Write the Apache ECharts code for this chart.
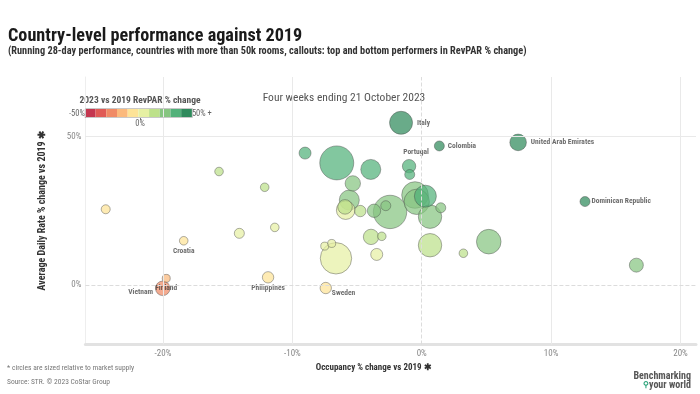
<!DOCTYPE html>
<html>
<head>
<meta charset="utf-8">
<script src="https://cdn.jsdelivr.net/npm/echarts@6/dist/echarts.min.js"></script>
<style>
html,body{margin:0;padding:0;background:#fff;}
#chart{width:700px;height:394px;}
</style>
</head>
<body>
<div id="chart"></div>
<script>
// ---- data ----
const countries = ['Italy','Colombia','United Arab Emirates','Dominican Republic','','Portugal','','','','','','','','','','','','','','','','','','','','','','','','','','','','','','','','Croatia','Finland','Vietnam','Philippines','Sweden'];
const occChange = [-1.6,1.36,7.45,12.62,16.59,-0.98,-0.93,-6.57,-3.94,-9.02,-15.67,-12.14,-24.43,-5.33,-5.6,-5.93,-5.88,-4.75,-3.69,-2.78,-2.45,-0.52,0.28,-0.39,0.64,1.47,-3.92,-3.09,0.64,5.18,3.22,-3.48,-7.5,-6.96,-6.63,-11.36,-14.1,-18.4,-19.75,-20.02,-11.88,-7.42];
const adrChange = [54.6,46.8,48.0,28.1,6.7,40.0,37.2,41.1,38.9,44.4,38.2,32.9,25.5,34.2,28.6,26.3,25.2,24.9,25.0,26.7,24.6,30.3,29.9,28.0,23.0,26.0,16.2,16.4,13.4,14.6,10.7,10.3,13.1,14.0,9.0,19.4,17.4,14.9,2.25,-1.1,2.6,-1.0];
const revparChange = [52,49,59,44,24,39,36,32,33,31,16,17,-5,27,21,19,9,19,21,23,22,29,31,27,24,28,12,13,14,21,14,7,5,6,2,6,1,-6,-18,-21,-10,-8];
const supplyK = [437,83,228,83,162,148,83,955,331,119,61,61,67,196,331,176,286,107,148,83,922,585,400,533,453,83,196,61,453,500,61,119,53,53,815,61,83,61,53,176,107,107];
const xTicks = [-20,-10,0,10,20];
const yTicks = [0,50];
</script>
<script>
const FONT = "'Roboto Condensed','Open Sans Condensed',sans-serif";
const labelPos = {
  'Italy': {position:'right', distance:4},
  'Colombia': {position:'right', distance:3},
  'United Arab Emirates': {position:'right', distance:4},
  'Dominican Republic': {position:'right', distance:1},
  'Portugal': {position:'top', distance:3, offset:[7,0]},
  'Croatia': {position:'bottom', distance:2},
  'Finland': {position:'bottom', distance:1},
  'Vietnam': {position:'left', distance:2, offset:[0,4]},
  'Philippines': {position:'bottom', distance:1},
  'Sweden': {position:'right', distance:0, offset:[0,5]}
};
const pts = occChange.map((x,i)=>({
  name: countries[i] || '',
  value: [x, adrChange[i], revparChange[i], supplyK[i]],
  label: countries[i] ? Object.assign({show:true}, labelPos[countries[i]] || {position:'right'}) : {show:false}
}));
pts.sort((a,b)=>b.value[3]-a.value[3]);

const binColors = ['#c4364f','#e05a55','#f08a65','#fbb97c','#fde397','#e6f0a3','#bde18a','#87c581','#52b17a','#2f8a5c'];
const pieces = binColors.map((c,i)=>{
  const p = {color:c};
  if (i>0) p.gte = -50 + i*10;
  if (i<9) p.lt = -50 + (i+1)*10;
  return p;
});

const grey = '#e9e9e9';
const chart = echarts.init(document.getElementById('chart'), null, {renderer:'canvas'});
chart.setOption({
  animation:false,
  textStyle:{fontFamily:FONT},
  title:{
    text:'Country-level performance against 2019',
    subtext:'(Running 28-day performance, countries with more than 50k rooms, callouts: top and bottom performers in RevPAR % change)',
    left:3, top:22, itemGap:1,
    textStyle:{fontFamily:FONT, fontSize:18.2, fontWeight:'bold', color:'#1a1a1a'},
    subtextStyle:{fontFamily:FONT, fontSize:10.3, fontWeight:'bold', color:'#333'}
  },
  grid:{left:85.4, right:4, top:77, bottom:49.5},
  xAxis:{
    type:'value', min:-26, max:21.2, interval:2,
    axisLine:{show:true, onZero:false, lineStyle:{color:'#e2e2e2', width:3}},
    axisTick:{show:false},
    splitLine:{show:false},
    axisLabel:{color:'#888', fontSize:9, margin:5, fontFamily:FONT,
      formatter:v=> xTicks.indexOf(v)>=0 ? v+'%' : ''},
    name:'Occupancy % change vs 2019 ✱', nameLocation:'middle', nameGap:17,
    nameTextStyle:{color:'#333', fontSize:9, fontWeight:'bold', fontFamily:FONT, padding:[0,34,0,0]}
  },
  yAxis:{
    type:'value', min:-20, max:70, interval:10,
    axisLine:{show:true, onZero:false, lineStyle:{color:'#eeeeee', width:1}},
    axisTick:{show:false},
    splitLine:{show:false},
    axisLabel:{color:'#888', fontSize:9, margin:4, fontFamily:FONT,
      formatter:v=> yTicks.indexOf(v)>=0 ? v+'%' : ''},
    name:'Average Daily Rate % change vs 2019 ✱', nameLocation:'middle', nameGap:38,
    nameTextStyle:{color:'#333', fontSize:10, fontWeight:'bold', fontFamily:FONT}
  },
  visualMap:{
    type:'piecewise', seriesIndex:1, dimension:2,
    pieces:pieces, orient:'horizontal', padding:0,
    left:69, top:109, itemWidth:10.7, itemHeight:9, itemGap:0, itemSymbol:'rect',
    showLabel:false, text:['50% +','-50%'], textGap:3,
    textStyle:{color:'#666', fontSize:8.5, fontFamily:FONT},
    hoverLink:false, selectedMode:false
  },
  graphic:[
    {type:'text', x:344, y:92, style:{text:'Four weeks ending 21 October 2023', fill:'#555', font:'11.5px '+FONT, textAlign:'center'}},
    {type:'text', x:140, y:96, style:{text:'2023 vs 2019 RevPAR % change', fill:'#555', font:'bold 9.5px '+FONT, textAlign:'center'}},
    {type:'rect', z:100, shape:{x:85.5, y:108.5, width:107, height:9}, style:{fill:'none', stroke:'#c8c8c8', lineWidth:1}},
    {type:'line', shape:{x1:140.5, y1:117, x2:140.5, y2:120}, style:{stroke:'#777', lineWidth:1}},
    {type:'text', x:140, y:119, style:{text:'0%', fill:'#666', font:'8.5px '+FONT, textAlign:'center'}},
    {type:'text', x:7, y:364, style:{text:'* circles are sized relative to market supply', fill:'#777', font:'7.5px '+FONT}},
    {type:'text', x:7, y:378, style:{text:'Source: STR. © 2023 CoStar Group', fill:'#777', font:'7.5px '+FONT}},
    {type:'text', x:691, y:371, style:{text:'Benchmarking', fill:'#555', font:'bold 10px '+FONT, textAlign:'right'}},
    {type:'text', x:691, y:380, style:{text:'your world', fill:'#555', font:'bold 10px '+FONT, textAlign:'right'}},
    {type:'text', x:643, y:381, style:{text:'⚲', fill:'#2aa37a', font:'bold 8px '+FONT}}
  ],
  series:[
    {
      type:'line', data:[], silent:true, z:1,
      markLine:{
        silent:true, symbol:'none', label:{show:false}, animation:false,
        lineStyle:{color:grey, type:'solid', width:1},
        data:[
          {xAxis:-20},{xAxis:-10},{xAxis:10},{xAxis:20},{yAxis:50},
          {xAxis:0, lineStyle:{type:'dashed', color:'#dcdcdc'}},
          {yAxis:0, lineStyle:{type:'dashed', color:'#dcdcdc'}}
        ]
      }
    },
    {
      type:'scatter', z:3,
      data:pts,
      symbolSize:v=>1.1*Math.sqrt(v[3]),
      itemStyle:{opacity:0.72, borderColor:'rgba(70,70,70,0.75)', borderWidth:0.8},
      label:{formatter:'{b}', color:'#333', fontSize:7.5, fontWeight:'bold', fontFamily:FONT},
      emphasis:{disabled:true}
    }
  ]
});
</script>
</body>
</html>
